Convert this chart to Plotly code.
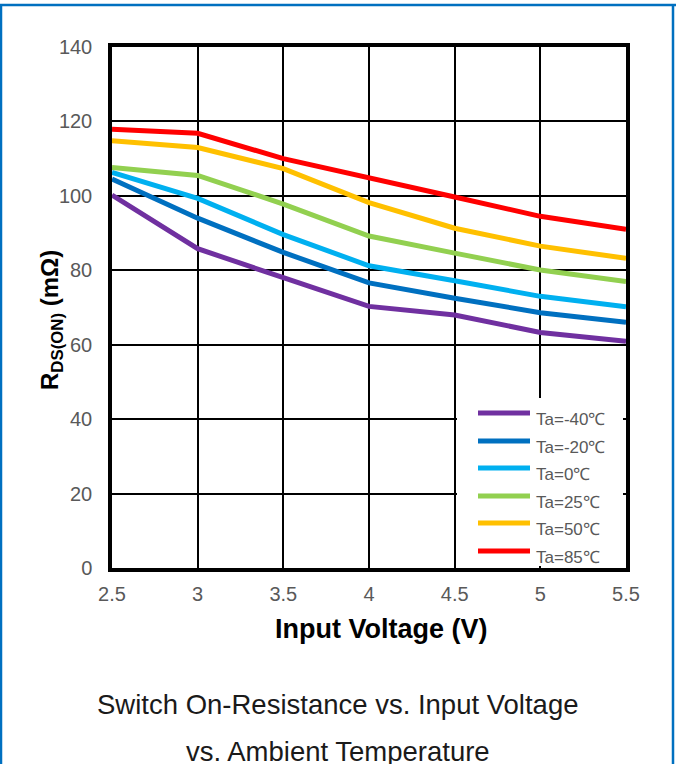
import plotly.graph_objects as go

# ---- data ----
voltage = [2.5, 3.0, 3.5, 4.0, 4.5, 5.0, 5.5]
series_names = ["Ta=-40℃", "Ta=-20℃", "Ta=0℃", "Ta=25℃", "Ta=50℃", "Ta=85℃"]
r_m40 = [100.2, 85.8, 78.0, 70.3, 68.0, 63.3, 60.9]
r_m20 = [104.5, 94.0, 84.8, 76.6, 72.5, 68.6, 66.0]
r_0 = [106.3, 99.3, 89.6, 81.2, 77.2, 73.0, 70.2]
r_25 = [107.6, 105.5, 97.8, 89.2, 84.6, 80.1, 77.0]
r_50 = [114.8, 113.0, 107.3, 98.2, 91.3, 86.5, 83.2]
r_85 = [117.9, 116.8, 110.0, 105.0, 99.7, 94.5, 91.0]
series_values = [r_m40, r_m20, r_0, r_25, r_50, r_85]
colors = ["#7030A0", "#0070C0", "#00B0F0", "#92D050", "#FFC000", "#FF0000"]
x_ticks = [2.5, 3, 3.5, 4, 4.5, 5, 5.5]
y_ticks = [0, 20, 40, 60, 80, 100, 120, 140]

W, H = 676, 764
L, R, T, B = 112, 626, 47, 568


def px(xp):
    return (xp - L) / (R - L)


def py(yp):
    return (B - yp) / (B - T)


fig = go.Figure()
for name, vals, c in zip(series_names, series_values, colors):
    fig.add_trace(go.Scatter(x=voltage, y=vals, mode="lines", name=name,
                             line=dict(color=c, width=5), showlegend=False))

axis_common = dict(showgrid=True, gridcolor="black", gridwidth=1.6,
                   showline=True, linecolor="black", linewidth=3.5, mirror=True,
                   zeroline=False, ticks="",
                   tickfont=dict(family="Liberation Sans, Arial", size=20, color="#595959"))
fig.update_xaxes(range=[2.5, 5.5], tickvals=x_ticks,
                 ticktext=[f"{v:g}" for v in x_ticks], ticklabelstandoff=5, **axis_common)
fig.update_yaxes(range=[0, 140], tickvals=y_ticks, ticklabelstandoff=12, **axis_common)

shapes = []
annotations = []
# legend box (white, covers grid)
shapes.append(dict(type="rect", xref="paper", yref="paper", layer="above",
                   x0=px(457), x1=px(623), y0=py(398), y1=py(566),
                   fillcolor="white", line=dict(width=0)))
leg_y = [413, 441, 468, 496, 523, 551]
for name, c, yy in zip(series_names, colors, leg_y):
    shapes.append(dict(type="line", xref="paper", yref="paper", layer="above",
                       x0=px(478), x1=px(530), y0=py(yy), y1=py(yy),
                       line=dict(color=c, width=5)))
    annotations.append(dict(xref="paper", yref="paper", x=px(534), y=py(yy + 6),
                            text=name, showarrow=False, xanchor="left", yanchor="middle",
                            font=dict(family="Liberation Sans, Arial", size=17, color="#595959")))

# blue frame
frame = "#0070C0"
shapes.append(dict(type="line", xref="paper", yref="paper", x0=px(0), x1=px(676),
                   y0=py(5), y1=py(5), line=dict(color=frame, width=2.5)))
shapes.append(dict(type="line", xref="paper", yref="paper", x0=px(1), x1=px(1),
                   y0=py(5), y1=py(764), line=dict(color=frame, width=2.5)))
shapes.append(dict(type="line", xref="paper", yref="paper", x0=px(673), x1=px(673),
                   y0=py(5), y1=py(764), line=dict(color=frame, width=2.5)))

# axis titles
annotations.append(dict(xref="paper", yref="paper", x=px(381), y=py(629),
                        text="<b>Input Voltage (V)</b>", showarrow=False,
                        xanchor="center", yanchor="middle",
                        font=dict(family="Liberation Sans, Arial", size=27, color="black")))
annotations.append(dict(xref="paper", yref="paper", x=px(51), y=py(320),
                        text="<b>R<sub>DS(ON)</sub> (mΩ)</b>", showarrow=False, textangle=-90,
                        xanchor="center", yanchor="middle",
                        font=dict(family="Liberation Sans, Arial", size=24, color="black")))
# caption
annotations.append(dict(xref="paper", yref="paper", x=px(338), y=py(704),
                        text="Switch On-Resistance vs. Input Voltage", showarrow=False,
                        xanchor="center", yanchor="middle",
                        font=dict(family="Liberation Sans, Arial", size=27.5, color="#1a1a1a")))
annotations.append(dict(xref="paper", yref="paper", x=px(338), y=py(751),
                        text="vs. Ambient Temperature", showarrow=False,
                        xanchor="center", yanchor="middle",
                        font=dict(family="Liberation Sans, Arial", size=27.5, color="#1a1a1a")))

fig.update_layout(width=W, height=H, margin=dict(l=L, r=W - R, t=T, b=H - B),
                  paper_bgcolor="white", plot_bgcolor="white",
                  shapes=shapes, annotations=annotations, showlegend=False)

fig.write_html("out.html", config={"displayModeBar": False},
               post_script="document.body.style.margin='0';document.body.style.overflow='hidden';")
